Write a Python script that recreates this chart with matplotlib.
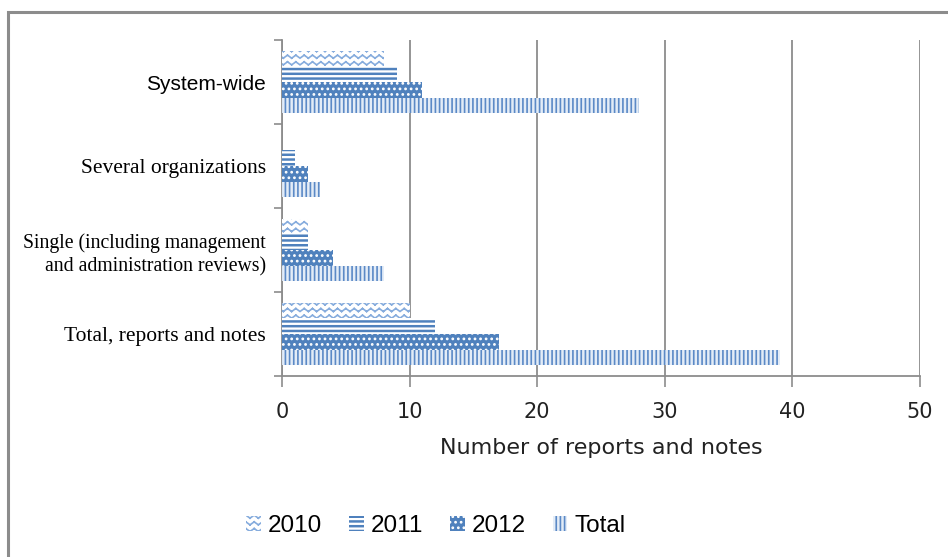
import warnings
warnings.filterwarnings("ignore")
import numpy as np
import matplotlib
matplotlib.use("Agg")
import matplotlib.pyplot as plt
import matplotlib.hatch as mhatch
from matplotlib.path import Path
from matplotlib.patches import Rectangle

# ---------------- data ----------------
categories = ["System-wide", "Several organizations",
              "Single (including management\nand administration reviews)",
              "Total, reports and notes"]
series_names = ["2010", "2011", "2012", "Total"]
values_2010 = [8, 0, 2, 10]
values_2011 = [9, 1, 2, 12]
values_2012 = [11, 2, 4, 17]
values_total = [28, 3, 8, 39]
x_ticks = [0, 10, 20, 30, 40, 50]
x_label = "Number of reports and notes"


# ---------------- custom hatches ----------------
class ZigZagHatch(mhatch.HatchPatternBase):
    """'z': rows of zigzag lines, drawn as separate open segments."""
    def __init__(self, hatch, density):
        self.num_rows = int(hatch.count('z') * 7.5)
        self.num_seg = 24
        self.num_vertices = self.num_rows * self.num_seg * 2

    def set_vertices_and_codes(self, vertices, codes):
        amp = 0.015
        xs = np.linspace(0, 1, self.num_seg + 1)
        ys = np.where(np.arange(self.num_seg + 1) % 2 == 0, -amp, amp)
        k = 0
        for r in range(self.num_rows):
            y0 = (r + 0.5) / self.num_rows
            for s in range(self.num_seg):
                vertices[k] = (xs[s], y0 + ys[s])
                vertices[k + 1] = (xs[s + 1], y0 + ys[s + 1])
                codes[k] = Path.MOVETO
                codes[k + 1] = Path.LINETO
                k += 2


class BandHatch(mhatch.HatchPatternBase):
    """'b': thick horizontal bands (thin filled rectangles)."""
    def __init__(self, hatch, density):
        self.num_rows = int(hatch.count('b') * 7)
        self.num_vertices = self.num_rows * 5

    def set_vertices_and_codes(self, vertices, codes):
        t = 0.004
        for r in range(self.num_rows):
            y0 = (r + 0.5) / self.num_rows
            k = r * 5
            vertices[k:k + 5] = [(0, y0 - t), (1, y0 - t), (1, y0 + t), (0, y0 + t), (0, y0 - t)]
            codes[k] = Path.MOVETO
            codes[k + 1:k + 4] = Path.LINETO
            codes[k + 4] = Path.CLOSEPOLY


mhatch._hatch_types.extend([ZigZagHatch, BandHatch])
plt.rcParams["hatch.linewidth"] = 1.2

W, H = 948, 557
fig = plt.figure(figsize=(W / 100, H / 100), dpi=100)
ax = fig.add_axes([282 / W, 1 - 376 / H, (920 - 282) / W, (376 - 40) / H])

blue = "#4F81BD"

ypos = np.arange(len(categories))[::-1]  # System-wide on top
h = 0.185
styles = [
    dict(vals=values_2010, off=1.5 * h, face="white", edge="#86ACDD", hatch="zz"),
    dict(vals=values_2011, off=0.5 * h, face="white", edge=blue, hatch="bbb"),
    dict(vals=values_2012, off=-0.5 * h, face=blue, edge="white", hatch="..."),
    dict(vals=values_total, off=-1.5 * h, face="#E3ECF7", edge="#5B89C6", hatch="||||"),
]
handles = []
for name, st in zip(series_names, styles):
    bc = ax.barh(ypos + st["off"], st["vals"], height=h, color=st["face"],
                 edgecolor=st["edge"], hatch=st["hatch"], linewidth=0,
                 label=name, zorder=3)
    handles.append(bc)

ax.set_xlim(0, 50)
ax.set_ylim(-0.5, 3.5)
ax.set_xticks(x_ticks)
ax.set_xticklabels([str(t) for t in x_ticks], fontsize=15, family="DejaVu Sans", color="#222222")
ax.tick_params(axis="x", length=8, width=1.2, color="#8c8c8c", pad=11)
ax.xaxis.grid(True, color="#8c8c8c", linewidth=1.3, zorder=0)
ax.set_axisbelow(True)
ax.set_xlabel(x_label, fontsize=16, family="DejaVu Sans", color="#222222", labelpad=11.5)

ax.set_yticks([-0.5, 0.5, 1.5, 2.5, 3.5])
ax.set_yticklabels([])
ax.tick_params(axis="y", which="major", length=6, width=1.2, color="#8c8c8c")
ax.set_yticks(ypos, minor=True)
ax.set_yticklabels(categories, minor=True, family="Liberation Serif", fontsize=15.5,
                   linespacing=1.35, ha="right")
ax.tick_params(axis="y", which="minor", length=0, pad=11.5)
for lbl in ax.get_yticklabels(minor=True):
    t = lbl.get_text()
    if t == "System-wide":
        lbl.set_fontsize(15)
        lbl.set_family("Liberation Sans")
    elif t.startswith("Single"):
        lbl.set_fontsize(14.2)

for s in ["top", "right"]:
    ax.spines[s].set_visible(False)
for s in ["left", "bottom"]:
    ax.spines[s].set_color("#8c8c8c")
    ax.spines[s].set_linewidth(1.3)

leg = fig.legend(handles=handles, labels=series_names, loc="center",
                 bbox_to_anchor=(436 / W, 1 - 526 / H), ncol=4, frameon=False,
                 prop={"family": "Liberation Sans", "size": 17.5},
                 handlelength=0.6, handleheight=0.6, handletextpad=0.3,
                 columnspacing=1.1)

fig.patches.append(Rectangle((8 / W, -0.1), 1.2, 1 - 12 / H + 0.1, transform=fig.transFigure,
                             fill=False, edgecolor="#8c8c8c", linewidth=2.2))

fig.savefig("out.png", dpi=100)
